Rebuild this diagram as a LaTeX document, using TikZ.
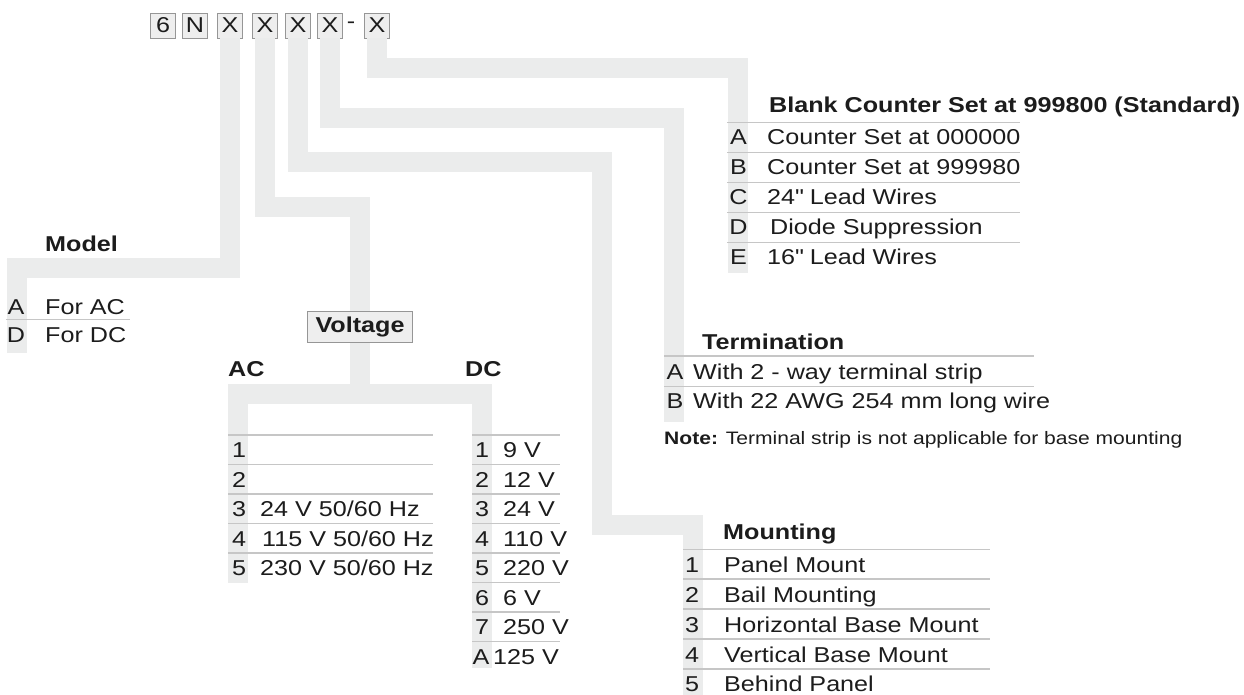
\documentclass[tikz,border=0pt]{standalone}
\usepackage{fontspec}
\setmainfont{Liberation Sans}[FakeStretch=1.17]
\usepackage{tikz}
\usetikzlibrary{positioning}
\definecolor{bandgray}{RGB}{235,236,236}
\definecolor{rulegray}{RGB}{198,198,198}
\definecolor{inkgray}{RGB}{28,28,28}
\definecolor{boxgray}{RGB}{238,238,238}
\definecolor{boxedge}{RGB}{150,150,150}

\begin{document}
\begin{tikzpicture}[
  x=1bp, y=-1bp,
  font=\fontsize{21.5bp}{25bp}\selectfont,
  band/.style={draw=bandgray, line width=20bp, line join=miter},
  codebox/.style={draw=boxedge, fill=boxgray, line width=0.8bp, minimum width=25bp, minimum height=25bp, inner sep=0pt, text=inkgray},
  head/.style={anchor=base west, inner sep=0pt, text=inkgray, font=\fontsize{21.5bp}{25bp}\selectfont\bfseries},
  item/.style={anchor=base west, inner sep=0pt, text=inkgray},
  key/.style={anchor=base, inner sep=0pt, text=inkgray},
  rowline/.style={draw=rulegray, line width=1.5bp}
]
\useasboundingbox (0,0) rectangle (1244,695);

% order code
\node[codebox] (c6) at (163,25.5) {6};
\node[codebox] (cN) at (195,25.5) {N};
\node[codebox] (cX1) at (230,25.5) {X};
\node[codebox] (cX2) at (265,25.5) {X};
\node[codebox] (cX3) at (298,25.5) {X};
\node[codebox] (cX4) at (330,25.5) {X};
\node[key, anchor=center] (dash) at (351,25.5) {-};
\node[codebox] (cX5) at (377,25.5) {X};

\node[draw=boxedge, fill=boxgray, line width=0.8bp, minimum width=104.6bp, minimum height=31bp, inner sep=0pt, text=inkgray, font=\fontsize{21.5bp}{25bp}\selectfont\bfseries] (volt) at (360,327.2) {Voltage};

\coordinate (modelend) at (17,353);
\coordinate (acend) at (238,583);
\coordinate (dcend) at (482,668);
\coordinate (mountend) at (693,695);
\coordinate (termend) at (674,422);
\coordinate (countend) at (737.5,273);

% grey leads
\draw[band] (cX1.south) -- (230,268) -| (modelend);
\draw[band] (cX2.south) -- (265,206.7) -| (volt.north);
\draw[band] (volt.south) -- (360,394);
\draw[band] (acend) -- (238,394) -- (482,394) -- (dcend);
\draw[band] (cX3.south) -- (298,162) -| (602,525) -| (mountend);
\draw[band] (cX4.south) -- (330,118) -| (termend);
\draw[band] (cX5.south) -- (377,68) -| (countend);

% model
\node[head] (model) at (45,251) {Model};
\draw[rowline] (6,319.3) -- (130,319.3);
\node[key] (mA) at (16,314.2) {A};
\node[item] (mAt) at (45,314.2) {For AC};
\node[key] (mD) at (16,342.5) {D};
\node[item] (mDt) at (45,342.5) {For DC};

% voltage
\node[head] (ac) at (228,376) {AC};
\node[head] (dc) at (465,376) {DC};
\draw[rowline] (228,435) -- (433,435) (228,464.5) -- (433,464.5) (228,494) -- (433,494)
  (228,523.5) -- (433,523.5) (228,553) -- (433,553);
\node[key] (ac1) at (239,457.5) {1};
\node[key] (ac2) at (239,487) {2};
\node[key] (ac3) at (239,516.5) {3};
\node[item] (ac3t) at (260,516.5) {24 V 50/60 Hz};
\node[key] (ac4) at (239,546) {4};
\node[item] (ac4t) at (262,546) {115 V 50/60 Hz};
\node[key] (ac5) at (239,575.5) {5};
\node[item] (ac5t) at (260,575.5) {230 V 50/60 Hz};

\draw[rowline] (472,435) -- (560,435) (472,464.5) -- (560,464.5) (472,494) -- (560,494)
  (472,523.5) -- (560,523.5) (472,553) -- (560,553) (472,582.5) -- (560,582.5)
  (472,612) -- (560,612) (472,641.5) -- (560,641.5);
\node[key] (dc1) at (482,457.5) {1};
\node[item] (dc1t) at (503,457.5) {9 V};
\node[key] (dc2) at (482,487) {2};
\node[item] (dc2t) at (503,487) {12 V};
\node[key] (dc3) at (482,516.5) {3};
\node[item] (dc3t) at (503,516.5) {24 V};
\node[key] (dc4) at (482,546) {4};
\node[item] (dc4t) at (503,546) {110 V};
\node[key] (dc5) at (482,575.5) {5};
\node[item] (dc5t) at (503,575.5) {220 V};
\node[key] (dc6) at (482,605) {6};
\node[item] (dc6t) at (503,605) {6 V};
\node[key] (dc7) at (482,634.5) {7};
\node[item] (dc7t) at (503,634.5) {250 V};
\node[key] (dcA) at (481,664) {A};
\node[item] (dcAt) at (493,664) {125 V};

% counter
\node[head] (count) at (769,112.5) {Blank Counter Set at 999800 (Standard)};
\draw[rowline] (727,122.7) -- (1020,122.7) (727,152.7) -- (1020,152.7) (727,182.7) -- (1020,182.7)
  (727,212.7) -- (1020,212.7) (727,242.7) -- (1020,242.7);
\node[key] (kA) at (738.5,144.2) {A};
\node[item] (kAt) at (767,144.2) {Counter Set at 000000};
\node[key] (kB) at (738.5,174.2) {B};
\node[item] (kBt) at (767,174.2) {Counter Set at 999980};
\node[key] (kC) at (738.5,204.2) {C};
\node[item] (kCt) at (767,204.2) {24\textquotedbl{} Lead Wires};
\node[key] (kD) at (738.5,234.2) {D};
\node[item] (kDt) at (770,234.2) {Diode Suppression};
\node[key] (kE) at (738.5,264.2) {E};
\node[item] (kEt) at (767,264.2) {16\textquotedbl{} Lead Wires};

% termination
\node[head] (term) at (702,349.4) {Termination};
\draw[rowline] (664,356) -- (1034,356) (664,386.7) -- (1034,386.7);
\node[key] (tA) at (675,379.2) {A};
\node[item] (tAt) at (693,379.2) {With 2 - way terminal strip};
\node[key] (tB) at (675,408.2) {B};
\node[item] (tBt) at (693,408.2) {With 22 AWG 254 mm long wire};
\node[item, font=\fontsize{18bp}{22bp}\selectfont] (note) at (664,444.8) {\textbf{Note:} Terminal strip is not applicable for base mounting};

% mounting
\node[head] (mount) at (723,539.5) {Mounting};
\draw[rowline] (683,549.3) -- (990,549.3) (683,579.2) -- (990,579.2) (683,609.1) -- (990,609.1)
  (683,639) -- (990,639) (683,668.9) -- (990,668.9);
\node[key] (p1) at (692,572.3) {1};
\node[item] (p1t) at (724,572.3) {Panel Mount};
\node[key] (p2) at (692,602.2) {2};
\node[item] (p2t) at (724,602.2) {Bail Mounting};
\node[key] (p3) at (692,632.1) {3};
\node[item] (p3t) at (724,632.1) {Horizontal Base Mount};
\node[key] (p4) at (692,662) {4};
\node[item] (p4t) at (724,662) {Vertical Base Mount};
\node[key] (p5) at (692,691.9) {5};
\node[item] (p5t) at (724,691.9) {Behind Panel};
\end{tikzpicture}
\end{document}
